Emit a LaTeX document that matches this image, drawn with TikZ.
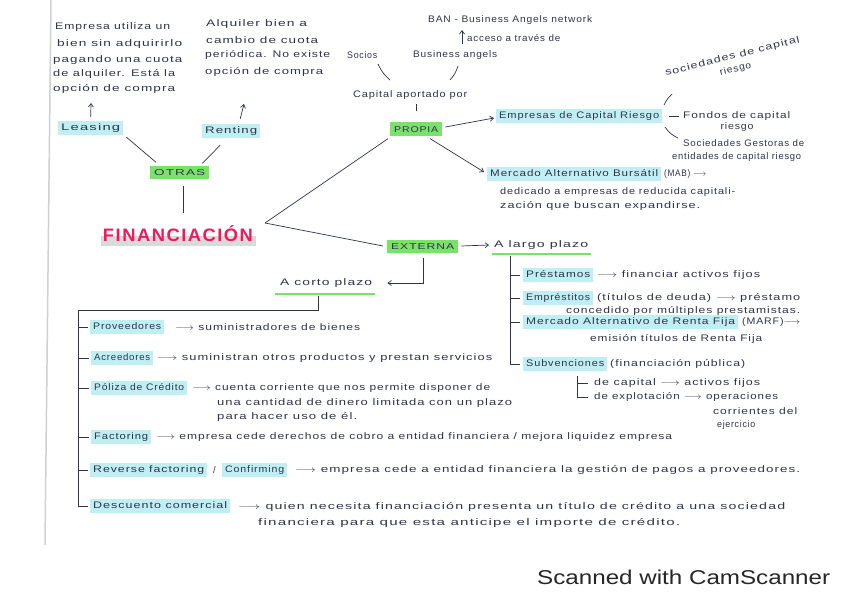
\documentclass[tikz,border=0pt]{standalone}
\usepackage{graphicx}
\usepackage{fontspec}
\setmainfont{Liberation Sans}[LetterSpace=8]
\newfontfamily\scanfont{Liberation Sans}
\usetikzlibrary{arrows.meta}
\definecolor{ink}{HTML}{30344A}
\definecolor{hlc}{HTML}{BFEFF3}
\definecolor{hlg}{HTML}{7AE26A}
\definecolor{finred}{HTML}{F0195C}
\definecolor{fingray}{HTML}{DADADA}
\definecolor{paperedge}{HTML}{D0D0D0}
\newcommand\hw[2]{\resizebox{#1}{\height}{#2}}
\newcommand\ar{$\longrightarrow$}
\begin{document}
\begin{tikzpicture}[x=1pt,y=-1pt,
  txt/.style={font=\fontsize{9.5}{11}\selectfont, text=ink, inner sep=0pt, anchor=west},
  hl/.style={txt, fill=hlc, inner xsep=3pt, inner ysep=2pt, text height=7.5pt, text depth=2.5pt},
  gb/.style={txt, fill=hlg, inner xsep=4pt, inner ysep=2.5pt, text height=7pt, text depth=1pt, font=\fontsize{8.5}{10}\selectfont},
  ln/.style={draw=ink, line width=0.7pt},
  arr/.style={ln, -{Straight Barb[length=3.5pt,width=5pt]}},
  uline/.style={draw=hlg, line width=1.8pt},
]
\useasboundingbox (0,0) rectangle (848,599);
\fill[white] (0,0) rectangle (848,599);
\draw[paperedge, line width=1.5pt] (51,0) -- (45,545);

% ---- top-left block
\node[txt] (e1) at (55,27) {\hw{115pt}{Empresa utiliza un}};
\node[txt] (e2) at (57,44) {\hw{125pt}{bien sin adquirirlo}};
\node[txt] (e3) at (53,60) {\hw{129pt}{pagando una cuota}};
\node[txt] (e4) at (53,74) {\hw{122pt}{de alquiler. Está la}};
\node[txt] (e5) at (53,89) {\hw{122pt}{opción de compra}};
% ---- top-mid block
\node[txt] (a1) at (206,24) {\hw{101pt}{Alquiler bien a}};
\node[txt] (a2) at (206,40) {\hw{112pt}{cambio de cuota}};
\node[txt] (a3) at (205,55) {\hw{125pt}{periódica. No existe}};
\node[txt] (a4) at (205,72) {\hw{118pt}{opción de compra}};

% ---- OTRAS branch
\node[hl] (leasing) at (58,128) {\hw{59pt}{Leasing}};
\node[hl] (renting) at (202,131) {\hw{52pt}{Renting}};
\node[gb] (otras) at (150,172) {\hw{51pt}{OTRAS}};
\coordinate (leasTop) at (91,103);
\coordinate (rentTop) at (244,104);
\draw[arr] ([yshift=4pt]leasing.north) -- (leasTop);
\draw[arr] ([xshift=9pt,yshift=5pt]renting.north) -- (rentTop);
\draw[ln] ([shift={(3pt,-2pt)}]leasing.south east) -- ([shift={(6pt,3pt)}]otras.north west);
\draw[ln] ([shift={(-11pt,-7pt)}]renting.south) -- ([shift={(-7pt,2pt)}]otras.north east);

% ---- FINANCIACION
\fill[fingray] (101,236) rectangle (256,246);
\node[inner sep=0pt, text=finred, font=\bfseries\fontsize{18}{20}\selectfont] (fin) at (178,234)
  {\resizebox{150pt}{\height}{FINANCIACIÓN}};
\coordinate (otrasLow) at (183,186);
\coordinate (finTop) at (183,213);
\draw[ln] (otrasLow) -- (finTop);
\coordinate (fv) at (265,223);

% ---- PROPIA branch
\node[gb] (propia) at (390,129) {\hw{44pt}{PROPIA}};
\node[txt] (cap) at (353,95) {\hw{114pt}{Capital aportado por}};
\node[txt] (so) at (347,55) {\hw{30pt}{Socios}};
\node[txt] (ba) at (413,55) {\hw{84pt}{Business angels}};
\node[txt] (ban) at (428,20) {\hw{164pt}{BAN - Business Angels network}};
\node[txt] (acc) at (467,38) {\hw{93pt}{acceso a través de}};
\coordinate (soA) at (378,64); \coordinate (soB) at (390,80);
\coordinate (baA) at (458,66); \coordinate (baB) at (450,80);
\draw[ln] (soA) to[bend right=12] (soB);
\draw[ln] (baA) to[bend left=12] (baB);
\coordinate (accA) at (462,44); \coordinate (accB) at (462,30);
\draw[arr] (accA) -- (accB);
\draw[ln] ([yshift=11pt]propia.north) -- ([yshift=18pt]propia.north);
\draw[ln] ([shift={(-2pt,-3pt)}]propia.south west) -- (fv);

\node[hl] (ecr) at (496,116) {\hw{160pt}{Empresas de Capital Riesgo}};
\draw[arr] ([shift={(3pt,2pt)}]propia.east) -- ([shift={(-2pt,-2pt)}]ecr.west);
\node[txt, rotate=14, anchor=center, align=center, font=\fontsize{9.5}{13}\selectfont] (sc) at (734,63)
  {\hw{138pt}{sociedades de capital}\\\hw{32pt}{riesgo}};
\coordinate (scA) at (664,105); \coordinate (scB) at (672,94);
\draw[ln] (scA) to[bend left=10] (scB);
\draw[ln] ([xshift=7pt]ecr.east) -- ([xshift=17pt]ecr.east);
\node[txt] (fo1) at (683,116) {\hw{107pt}{Fondos de capital}};
\node[txt, anchor=center] (fo2) at (737,127) {\hw{33pt}{riesgo}};
\coordinate (sgA) at (665,127); \coordinate (sgB) at (678,138);
\draw[ln] (sgA) to[bend right=15] (sgB);
\node[txt] (g1) at (683,143) {\hw{121pt}{Sociedades Gestoras de}};
\node[txt] (g2) at (672,157) {\hw{129pt}{entidades de capital riesgo}};

\node[hl] (mab) at (487,174) {\hw{168pt}{Mercado Alternativo Bursátil}};
\node[txt] (mab2) at (664,174) {\hw{42pt}{(MAB) \ar}};
\draw[arr] ([shift={(14pt,-3pt)}]propia.south) -- ([shift={(-3pt,2pt)}]mab.west);
\node[txt] (d1) at (500,192) {\hw{235pt}{dedicado a empresas de reducida capitali-}};
\node[txt] (d2) at (500,206) {\hw{200pt}{zación que buscan expandirse.}};

% ---- EXTERNA branch
\node[gb] (ext) at (387,246) {\hw{63pt}{EXTERNA}};
\draw[ln] (fv) -- ([xshift=-4pt]ext.west);
\node[txt] (alp) at (494,245) {\hw{94pt}{A largo plazo}};
\draw[uline] ([shift={(-2pt,-4pt)}]alp.south west) -- ([shift={(3pt,-4pt)}]alp.south east);
\draw[arr] ([xshift=3pt]ext.east) -- ([xshift=-5pt]alp.west);

\node[hl] (prest) at (523,275) {\hw{64pt}{Préstamos}};
\node[txt] (prest2) at (597,275) {\hw{163pt}{\ar\ financiar activos fijos}};
\node[hl] (empr) at (523,298) {\hw{64pt}{Empréstitos}};
\node[txt] (empr2) at (597,298) {\hw{203pt}{(títulos de deuda) \ar\ préstamo}};
\node[txt] (empr3) at (566,311) {\hw{234pt}{concedido por múltiples prestamistas.}};
\node[hl] (marf) at (523,322) {\hw{209pt}{Mercado Alternativo de Renta Fija}};
\node[txt] (marf2) at (742,322) {\hw{58pt}{(MARF)\ar}};
\node[txt] (marf3) at (590,339) {\hw{172pt}{emisión títulos de Renta Fija}};
\node[hl] (subv) at (523,364) {\hw{78pt}{Subvenciones}};
\node[txt] (subv2) at (610,364) {\hw{135pt}{(financiación pública)}};
\coordinate (lp0) at (510,256);
\draw[ln] (lp0) |- ([xshift=-3pt]subv.west);
\draw[ln] (lp0 |- prest.west) -- ([xshift=-3pt]prest.west);
\draw[ln] (lp0 |- empr.west) -- ([xshift=-3pt]empr.west);
\draw[ln] (lp0 |- marf.west) -- ([xshift=-3pt]marf.west);

\node[txt] (dcap) at (594,383) {\hw{166pt}{de capital \ar\ activos fijos}};
\node[txt] (expl) at (594,397) {\hw{184pt}{de explotación \ar\ operaciones}};
\node[txt] (ej1) at (713,411) {\hw{84pt}{corrientes del}};
\node[txt] (ej2) at (717,425) {\hw{38pt}{ejercicio}};
\coordinate (sb0) at (577,376);
\draw[ln] (sb0) |- ([xshift=-6pt]expl.west);
\draw[ln] (sb0 |- dcap.west) -- ([xshift=-6pt]dcap.west);

% ---- A corto plazo
\node[txt] (acp) at (280,283) {\hw{92pt}{A corto plazo}};
\draw[uline] ([shift={(-5pt,-6pt)}]acp.south west) -- ([shift={(3pt,-6pt)}]acp.south east);
\coordinate (extLow) at (423,258);
\draw[arr] (extLow) |- ([xshift=15pt]acp.east);
\coordinate (cp0) at (318,296);
\coordinate (cpL) at (78,310);

\node[hl] (prov) at (90,327) {\hw{68pt}{Proveedores}};
\node[txt] (prov2) at (175,327) {\hw{185pt}{\ar\ suministradores de bienes}};
\node[hl] (acre) at (91,358) {\hw{56pt}{Acreedores}};
\node[txt] (acre2) at (157,358) {\hw{335pt}{\ar\ suministran otros productos y prestan servicios}};
\node[hl] (pol) at (91,388) {\hw{90pt}{Póliza de Crédito}};
\node[txt] (pol2) at (192,388) {\hw{298pt}{\ar\ cuenta corriente que nos permite disponer de}};
\node[txt] (pol3) at (217,403) {\hw{295pt}{una cantidad de dinero limitada con un plazo}};
\node[txt] (pol4) at (217,417) {\hw{140pt}{para hacer uso de él.}};
\node[hl] (fac) at (91,437) {\hw{54pt}{Factoring}};
\node[txt] (fac2) at (156,437) {\hw{516pt}{\ar\ empresa cede derechos de cobro a entidad financiera / mejora liquidez empresa}};
\node[hl] (rev) at (90,470) {\hw{111pt}{Reverse factoring}};
\node[txt] (slash) at (213,470) {/};
\node[hl] (conf) at (222,470) {\hw{59pt}{Confirming}};
\node[txt] (rev2) at (295,470) {\hw{505pt}{\ar\ empresa cede a entidad financiera la gestión de pagos a proveedores.}};
\node[hl] (desc) at (90,506) {\hw{134pt}{Descuento comercial}};
\node[txt] (desc2) at (238,507) {\hw{547pt}{\ar\ quien necesita financiación presenta un título de crédito a una sociedad}};
\node[txt] (desc3) at (258,523) {\hw{422pt}{financiera para que esta anticipe el importe de crédito.}};

\draw[ln] (cp0) |- (cpL) -- (cpL |- desc.west) -- ([xshift=-2pt]desc.west);
\foreach \n in {prov,acre,pol,fac,rev}
  \draw[ln] (cpL |- \n.west) -- ([xshift=-2pt]\n.west);

% ---- footer
\node[inner sep=0pt, anchor=west, text=black!85, font=\scanfont\fontsize{20}{22}\selectfont] (scan) at (537,577)
  {\resizebox{293pt}{\height}{Scanned with CamScanner}};
\end{tikzpicture}
\end{document}
